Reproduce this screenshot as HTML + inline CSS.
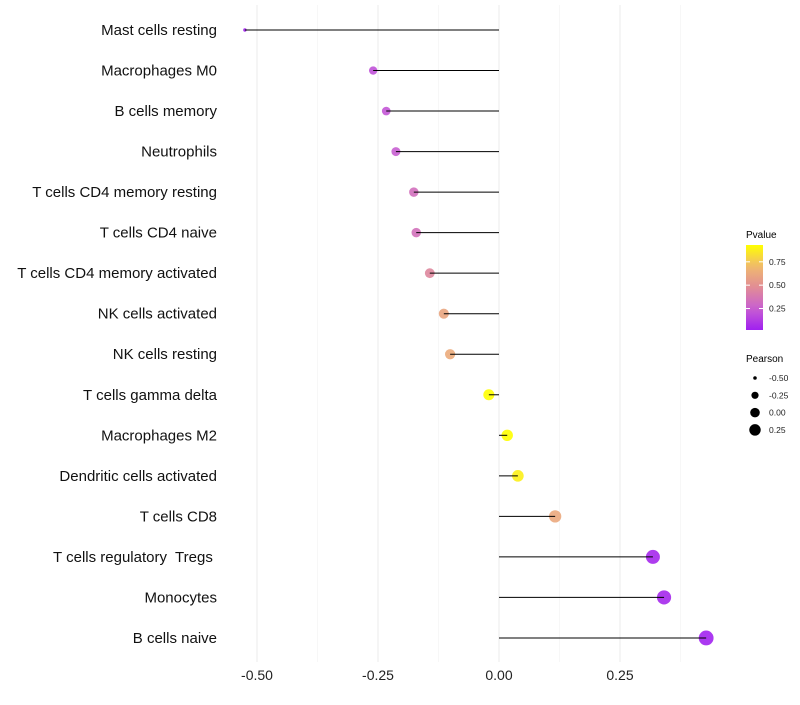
<!DOCTYPE html>
<html><head><meta charset="utf-8"><style>body{margin:0;background:#fff}svg{font-family:"Liberation Sans",sans-serif}text{white-space:pre}</style></head>
<body>
<svg id="c" width="800" height="700" xmlns="http://www.w3.org/2000/svg"></svg>
<script>
const categories=["Mast cells resting","Macrophages M0","B cells memory","Neutrophils","T cells CD4 memory resting","T cells CD4 naive","T cells CD4 memory activated","NK cells activated","NK cells resting","T cells gamma delta","Macrophages M2","Dendritic cells activated","T cells CD8","T cells regulatory  Tregs ","Monocytes","B cells naive"];
const pearson=[-0.525,-0.26,-0.233,-0.213,-0.176,-0.171,-0.143,-0.114,-0.101,-0.021,0.017,0.039,0.116,0.318,0.341,0.428];
const pvalue=[0.03,0.2,0.22,0.25,0.33,0.34,0.45,0.6,0.63,0.93,0.93,0.88,0.62,0.05,0.05,0.03];
const xTicks=[-0.5,-0.25,0,0.25];
const xTickLabels=["-0.50","-0.25","0.00","0.25"];
const xMinor=[-0.375,-0.125,0.125,0.375];
const legendP=[0.25,0.5,0.75];
const legendPearson=[-0.5,-0.25,0,0.25];
const NS="http://www.w3.org/2000/svg",svg=document.getElementById('c');
const x=v=>499+484*v, y=i=>30+i*40.53;
function el(t,a,p){const e=document.createElementNS(NS,t);for(const k in a)e.setAttribute(k,a[k]);(p||svg).appendChild(e);return e;}
function lerp(a,b,t){return a.map((v,i)=>Math.round(v+(b[i]-v)*t));}
const stops=[[0,[160,32,240]],[0.25,[200,95,210]],[0.5,[225,140,150]],[0.75,[240,185,110]],[1,[255,255,0]]];
function col(p){let t=Math.max(0,Math.min(1,(p-0.02)/(0.93-0.02)));for(let i=0;i<stops.length-1;i++){if(t<=stops[i+1][0]){const c=lerp(stops[i][1],stops[i+1][1],(t-stops[i][0])/(stops[i+1][0]-stops[i][0]));return `rgb(${c})`;}}return 'rgb(255,255,0)';}
const pmin=-0.525,pmax=0.428;
const rad=v=>Math.sqrt(3+52*(v-pmin)/(pmax-pmin));
xMinor.forEach(v=>{const l=el('line',{x1:x(v),x2:x(v),y1:5,y2:662,stroke:'#f2f2f2','stroke-width':0.6});

});
xTicks.forEach((v,i)=>{const l=el('line',{x1:x(v),x2:x(v),y1:5,y2:662,stroke:'#ebebeb','stroke-width':1});


const t=el('text',{x:x(v),y:680,'text-anchor':'middle','font-size':14,fill:'#222'});t.textContent=xTickLabels[i];

});
categories.forEach((c,i)=>{
const t=el('text',{x:217,y:y(i)+5,'text-anchor':'end','font-size':15,fill:'#111'});t.textContent=c;


const d=el('circle',{cx:x(pearson[i]),cy:y(i),r:rad(pearson[i]),fill:col(pvalue[i]),'fill-opacity':0.9});


const l=el('line',{x1:x(0),x2:x(pearson[i]),y1:y(i),y2:y(i),stroke:'#000','stroke-width':1});

});
const g=el('g',{});
const tt=el('text',{x:746,y:238,'font-size':10},g);tt.textContent='Pvalue';
const defs=el('defs',{},g);const lg=el('linearGradient',{id:'pg',x1:0,y1:1,x2:0,y2:0},defs);
for(let k=0;k<=10;k++)el('stop',{offset:k/10,'stop-color':col(0.02+k/10*0.91)},lg);
el('rect',{x:746,y:245,width:17,height:85,fill:'url(#pg)'},g);
const py=p=>330-85*(p-0.02)/0.91;
legendP.forEach(p=>{el('line',{x1:746,x2:750,y1:py(p),y2:py(p),stroke:'#fff'},g);el('line',{x1:759,x2:763,y1:py(p),y2:py(p),stroke:'#fff'},g);
const t=el('text',{x:769,y:py(p)+3,'font-size':8.5,fill:'#222'},g);t.textContent=p.toFixed(2);});
const g2=el('g',{});
const t2=el('text',{x:746,y:362,'font-size':10},g2);t2.textContent='Pearson';
legendPearson.forEach((v,i)=>{const yy=378+i*17.3;el('circle',{cx:755,cy:yy,r:rad(v)*0.85,fill:'#000'},g2);
const t=el('text',{x:769,y:yy+3,'font-size':8.5,fill:'#222'},g2);t.textContent=v.toFixed(2);});
</script>
</body></html>
